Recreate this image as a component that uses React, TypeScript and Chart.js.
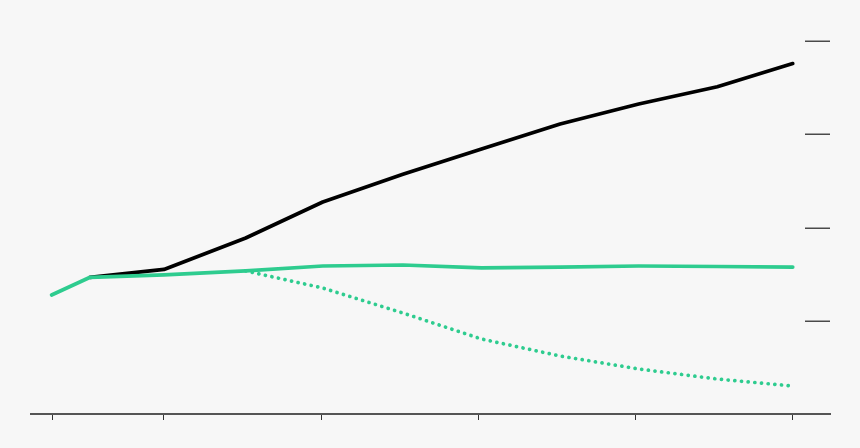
import React, { useEffect, useRef } from "react";
import { Chart, registerables } from "chart.js";

Chart.register(...registerables);

const YEARS = [2012.85, 2015.3, 2020, 2025.2, 2030.1, 2035.2, 2040.2, 2045.2, 2050.2, 2055.2, 2060];
const BLACK = [null, 1.466, 1.55, 1.887, 2.273, 2.57, 2.842, 3.11, 3.324, 3.51, 3.758];
const GREEN = [1.276, 1.466, 1.491, 1.534, 1.587, 1.598, 1.566, 1.576, 1.587, 1.582, 1.576];
const GREEN_DOTTED = [null, null, null, 1.534, 1.351, 1.083, 0.804, 0.622, 0.483, 0.375, 0.3];
const X_TICKS = [2012.9, 2020, 2030, 2040, 2050, 2060];
const Y_TICKS = [1, 2, 3, 4];

const toPts = (arr: (number | null)[]) =>
  YEARS.map((x, i) => ({ x, y: arr[i] }));

const yTickPlugin = {
  id: "yTickMarks",
  afterDraw(chart: any) {
    const { ctx, chartArea, scales } = chart;
    ctx.save();
    ctx.strokeStyle = "#4a4a4a";
    ctx.lineWidth = 1.5;
    Y_TICKS.forEach((v) => {
      const y = Math.round(scales.y.getPixelForValue(v)) + 0.25;
      ctx.beginPath();
      ctx.moveTo(chartArea.right - 25, y);
      ctx.lineTo(chartArea.right, y);
      ctx.stroke();
    });
    ctx.restore();
  },
};

export default function App() {
  const ref = useRef<HTMLCanvasElement>(null);
  useEffect(() => {
    document.body.style.margin = "0";
    const GREEN_C = "#2ecc8f";
    const chart = new Chart(ref.current!, {
      type: "line",
      data: {
        datasets: [
          {
            data: toPts(GREEN) as any,
            borderColor: GREEN_C,
            borderWidth: 3.7,
            pointRadius: 0,
            tension: 0,
            borderCapStyle: "round",
            borderJoinStyle: "round",
            order: 0,
          },
          {
            data: toPts(GREEN_DOTTED) as any,
            borderColor: GREEN_C,
            borderWidth: 3.7,
            borderDash: [0.1, 6.6],
            borderCapStyle: "round",
            pointRadius: 0,
            tension: 0,
            order: 1,
          },
          {
            data: toPts(BLACK) as any,
            borderColor: "#000000",
            borderWidth: 3.7,
            pointRadius: 0,
            tension: 0,
            borderCapStyle: "round",
            borderJoinStyle: "round",
            order: 2,
          },
        ],
      },
      options: {
        animation: false,
        responsive: false,
        layout: { padding: { left: 31, right: 30, top: 41, bottom: 28 } },
        plugins: { legend: { display: false }, tooltip: { enabled: false } },
        scales: {
          x: {
            type: "linear",
            min: 2011.54,
            max: 2062.37,
            afterBuildTicks: (axis: any) => {
              axis.ticks = X_TICKS.map((value) => ({ value }));
            },
            ticks: { display: false },
            grid: {
              drawOnChartArea: false,
              drawTicks: true,
              tickLength: 6,
              color: "#333333",
              lineWidth: 1,
            },
            border: { display: true, color: "#555555", width: 2 },
          },
          y: {
            display: false,
            min: 0,
            max: 4,
          },
        },
      },
      plugins: [yTickPlugin],
    });
    return () => chart.destroy();
  }, []);
  return (
    <div style={{ width: 860, height: 448, background: "#f7f7f7" }}>
      <canvas ref={ref} width={860} height={448} />
    </div>
  );
}
